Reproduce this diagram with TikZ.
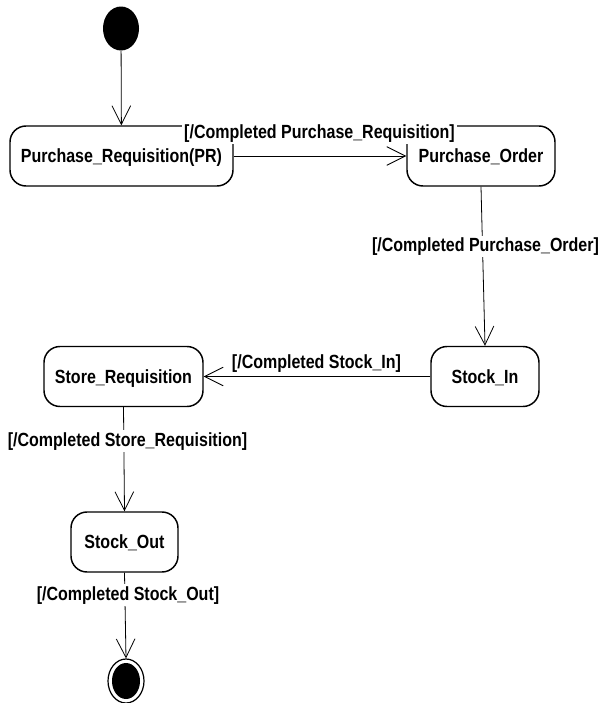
\documentclass[tikz,border=0pt]{standalone}
\usepackage{fontspec}
\newfontfamily\umlfont[FakeStretch=0.84]{Liberation Sans}
\usetikzlibrary{arrows.meta,shapes.geometric}

\begin{document}
\begin{tikzpicture}[x=0.75pt,y=-0.75pt,
  umltext/.style={font=\umlfont\bfseries\fontsize{14.3pt}{16pt}\selectfont},
  state/.style={umltext, draw, line width=1.1pt, rounded corners=12pt,
    text height=10.3pt, text depth=0pt, inner sep=0pt, minimum height=45pt},
  initstate/.style={ellipse, fill=black, inner sep=0pt,
    minimum width=27pt, minimum height=33pt},
  finalring/.style={ellipse, draw, line width=0.9pt, inner sep=0pt,
    minimum width=27pt, minimum height=33pt},
  finaldot/.style={ellipse, fill=black, inner sep=0pt,
    minimum width=21pt, minimum height=27pt},
  trans/.style={draw, line width=0.6pt, -{Straight Barb[length=14pt,width=14pt]}},
  guard/.style={umltext, fill=white, inner sep=1.5pt, anchor=base}]

  % page frame
  \useasboundingbox (0,0) rectangle (600,703);

  % states
  \node[initstate] (init) at (121,28.5) {};
  \node[state, minimum width=167.25pt] (pr) at (121.5,156) {Purchase\_Requisition(PR)};
  \node[state, minimum width=111pt] (po) at (481,156) {Purchase\_Order};
  \node[state, minimum width=81pt] (sin) at (485,376.5) {Stock\_In};
  \node[state, minimum width=119.25pt] (sreq) at (123.5,376.5) {Store\_Requisition};
  \node[state, minimum width=80.25pt] (sout) at (124.5,542) {Stock\_Out};
  \node[finalring] (fin) at (126,681) {};
  \node[finaldot] (findot) at (126,681) {};

  % transitions
  \draw[trans] (init) -- (pr);
  \draw[trans] (pr.east) -- (po.west);
  \draw[trans] (po.south) -- (sin.north);
  \draw[trans] (sin.west) -- (sreq.east);
  \draw[trans] (sreq.south) -- (sout.north);
  \draw[trans] (sout.south) -- (fin.north);

  % guards
  \node[guard] (g1) at (319.5,138) {[/Completed Purchase\_Requisition]};
  \node[guard] (g2) at (485.5,251.5) {[/Completed Purchase\_Order]};
  \node[guard] (g3) at (316.5,368) {[/Completed Stock\_In]};
  \node[guard] (g4) at (127.5,446) {[/Completed Store\_Requisition]};
  \node[guard] (g5) at (128,600) {[/Completed Stock\_Out]};
\end{tikzpicture}
\end{document}
